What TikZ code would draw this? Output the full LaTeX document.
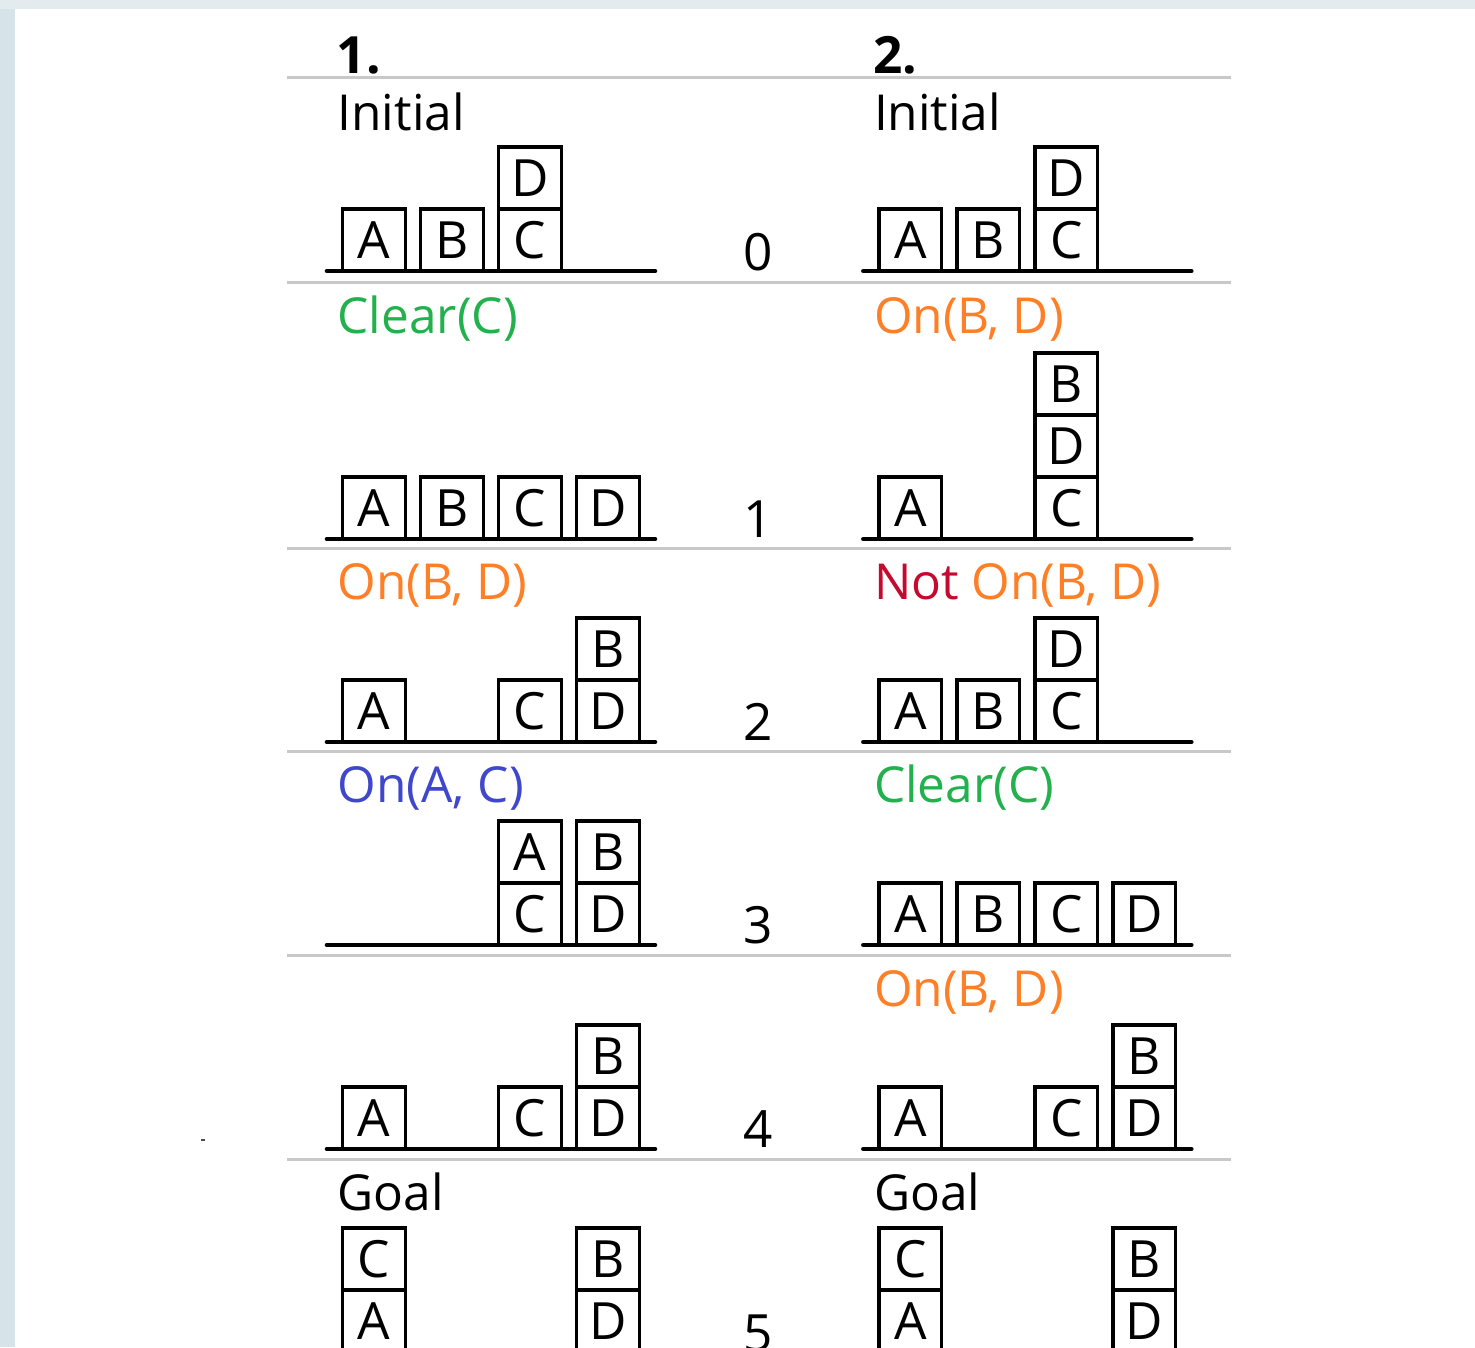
\documentclass[tikz,border=0pt]{standalone}
\usepackage{fontspec}
\setmainfont{Open Sans}
\definecolor{edgeblue}{HTML}{D6E3E9}
\definecolor{topblue}{HTML}{E3EBEF}
\definecolor{sepgray}{HTML}{C8C8C8}
\definecolor{clrgreen}{HTML}{22B14C}
\definecolor{onorange}{HTML}{FF7F27}
\definecolor{notred}{HTML}{C40A2E}
\definecolor{onblue}{HTML}{3F48CC}
\tikzset{
  blockbox/.style={draw, line width=1pt, minimum size=0.625cm, inner sep=0pt,
    font=\fontsize{14.6}{17}\selectfont},
  ground/.style={line width=1.3pt, line cap=round},
  sepline/.style={sepgray, line width=0.85pt},
  steplabel/.style={anchor=base west, inner sep=0pt, font=\fontsize{14.1}{17}\selectfont},
  stepnum/.style={anchor=base, inner sep=0pt, font=\fontsize{14.6}{17}\selectfont},
}
\begin{document}
\begin{tikzpicture}[x=0.01cm, y=-0.01cm]
\useasboundingbox (0,0) rectangle (1475,1347);
\clip (0,0) rectangle (1475,1347);
% Page
\fill[edgeblue] (0,0) rectangle (1475,1347);
\fill[topblue] (0,0) rectangle (1475,9);
\fill[white] (15,9) rectangle (1475,1347);
\draw[black!70, line width=0.3pt] (201,1140) -- (205,1140);

% Separators
\foreach \y in {77, 282, 548, 751, 955, 1159} {
    \draw[sepline] (287,\y) -- (1231,\y);
}

% Step numbers
\foreach \k/\y in {0/270, 1/537, 2/740, 3/943, 4/1147, 5/1351} {
    \node[stepnum] (num\k) at (758,\y) {\k};
}

% Column 1
\begin{scope}[name prefix=L-]
\node[steplabel, font=\fontsize{14.6}{17}\selectfont\bfseries] (head) at (336,73) {1.};
\node[steplabel] (lab0) at (337,130) {Initial};
\foreach \n/\x/\y in {A/374/240, B/452/240, C/530/240, D/530/178}
    \node[blockbox] (r0\n) at (\x,\y) {\n};
\draw[ground] (327,271) -- (655,271);

\node[steplabel, text=clrgreen] (lab1) at (337,333) {Clear(C)};
\foreach \n/\x/\y in {A/374/508, B/452/508, C/530/508, D/608/508}
    \node[blockbox] (r1\n) at (\x,\y) {\n};
\draw[ground] (327,539) -- (655,539);

\node[steplabel, text=onorange] (lab2) at (337,599) {On(B, D)};
\foreach \n/\x/\y in {A/374/711, C/530/711, D/608/711, B/608/649}
    \node[blockbox] (r2\n) at (\x,\y) {\n};
\draw[ground] (327,742) -- (655,742);

\node[steplabel, text=onblue] (lab3) at (337,802) {On(A, C)};
\foreach \n/\x/\y in {C/530/914, A/530/852, D/608/914, B/608/852}
    \node[blockbox] (r3\n) at (\x,\y) {\n};
\draw[ground] (327,945) -- (655,945);

\foreach \n/\x/\y in {A/374/1118, C/530/1118, D/608/1118, B/608/1056}
    \node[blockbox] (r4\n) at (\x,\y) {\n};
\draw[ground] (327,1149) -- (655,1149);

\node[steplabel] (lab5) at (337,1210) {Goal};
\foreach \n/\x/\y in {A/374/1321, C/374/1259, D/608/1321, B/608/1259}
    \node[blockbox] (r5\n) at (\x,\y) {\n};
\end{scope}

% Column 2
\begin{scope}[xshift=5.36cm, name prefix=R-]
\node[steplabel, font=\fontsize{14.6}{17}\selectfont\bfseries] (head) at (336,73) {2.};
\node[steplabel] (lab0) at (337,130) {Initial};
\foreach \n/\x/\y in {A/374/240, B/452/240, C/530/240, D/530/178}
    \node[blockbox] (r0\n) at (\x,\y) {\n};
\draw[ground] (327,271) -- (655,271);

\node[steplabel, text=onorange] (lab1) at (337,333) {On(B, D)};
\foreach \n/\x/\y in {A/374/508, C/530/508, D/530/446, B/530/384}
    \node[blockbox] (r1\n) at (\x,\y) {\n};
\draw[ground] (327,539) -- (655,539);

\node[steplabel] (lab2) at (337,599) {\textcolor{notred}{Not} \textcolor{onorange}{On(B, D)}};
\foreach \n/\x/\y in {A/374/711, B/452/711, C/530/711, D/530/649}
    \node[blockbox] (r2\n) at (\x,\y) {\n};
\draw[ground] (327,742) -- (655,742);

\node[steplabel, text=clrgreen] (lab3) at (337,802) {Clear(C)};
\foreach \n/\x/\y in {A/374/914, B/452/914, C/530/914, D/608/914}
    \node[blockbox] (r3\n) at (\x,\y) {\n};
\draw[ground] (327,945) -- (655,945);

\node[steplabel, text=onorange] (lab4) at (337,1006) {On(B, D)};
\foreach \n/\x/\y in {A/374/1118, C/530/1118, D/608/1118, B/608/1056}
    \node[blockbox] (r4\n) at (\x,\y) {\n};
\draw[ground] (327,1149) -- (655,1149);

\node[steplabel] (lab5) at (337,1210) {Goal};
\foreach \n/\x/\y in {A/374/1321, C/374/1259, D/608/1321, B/608/1259}
    \node[blockbox] (r5\n) at (\x,\y) {\n};
\end{scope}

\end{tikzpicture}
\end{document}
